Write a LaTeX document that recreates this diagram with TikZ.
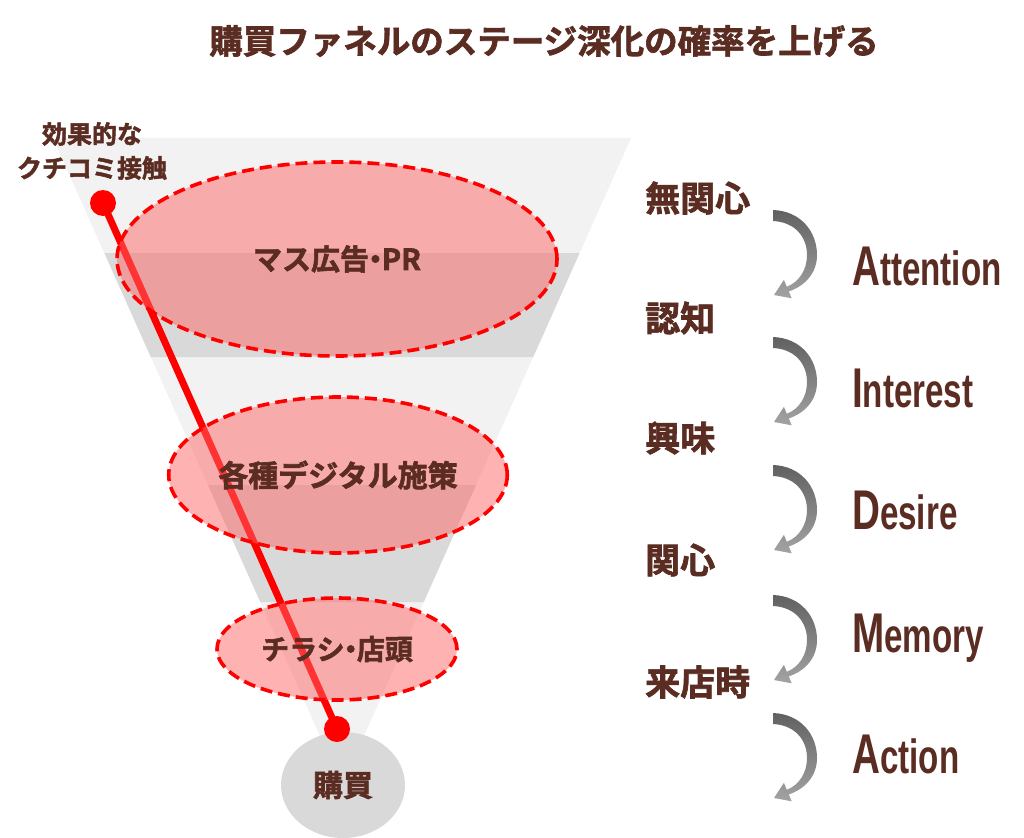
\documentclass[tikz,border=0pt]{standalone}
\usepackage{fontspec}
\newfontfamily\jpfont[BoldFont={Noto Sans CJK JP Bold},BoldFeatures={FakeBold=2}]{Noto Sans CJK JP}
\newfontfamily\enfont[FakeStretch=0.69,BoldFont={Liberation Sans Bold}]{Liberation Sans}
\usetikzlibrary{shapes.geometric}
\definecolor{txtbrown}{HTML}{5A2C22}
\definecolor{lightband}{HTML}{F2F2F2}
\definecolor{darkband}{HTML}{D9D9D9}
\definecolor{pinkfill}{HTML}{FF6666}
\tikzset{
  jptext/.style={text=txtbrown, font=\jpfont\bfseries, inner sep=0pt},
  plan/.style={ellipse, draw=red, line width=3.6pt, dash pattern=on 12pt off 6pt,
    fill=pinkfill, fill opacity=.5, text opacity=1, inner sep=0pt, jptext},
  dot/.style={circle, fill=red, minimum size=26pt, inner sep=0pt},
  stagebox/.style={jptext, anchor=west, font=\jpfont\bfseries\fontsize{35}{35}\selectfont},
  aidma/.style={text=txtbrown, anchor=base west, inner sep=0pt, font=\enfont\bfseries},
  turnarrow/.style={top color=black!62, bottom color=black!36}
}
\newcommand{\bigfirst}[2]{{\fontsize{56}{56}\selectfont #1}{\fontsize{48}{48}\selectfont #2}}
\newcommand{\nakaguro}{\kern-.28em・\kern-.28em}
\begin{document}
\begin{tikzpicture}[x=1pt, y=-1pt]
\useasboundingbox (0,0) rectangle (1024,837);
\fill[white] (0,0) rectangle (1024,837);
% title
\node[jptext, font=\jpfont\bfseries\fontsize{33.5}{33.5}\selectfont] (title) at (544,41)
  {購買ファネルのステージ深化の確率を上げる};
% funnel bands
\fill[lightband] (53,138) -- (631,138) -- (342,785) -- cycle;
\fill[darkband] (104.4,253) -- (579.6,253) -- (533.2,357) -- (150.8,357) -- cycle;
\fill[darkband] (208,485) -- (476,485) -- (423.7,602) -- (260.3,602) -- cycle;
\node[ellipse, fill=darkband, minimum width=124pt, minimum height=106pt, inner sep=0pt,
  jptext, font=\jpfont\bfseries\fontsize{30}{30}\selectfont] (kobai) at (343,785) {購買};
% word of mouth line
\node[dot] (wom) at (103,203) {};
\node[dot] (buy) at (337,729) {};
\draw[red, line width=7pt] (wom.center) -- (buy.center);
\node[jptext, align=center, font=\jpfont\bfseries\fontsize{25}{34}\selectfont] (womlabel) at (92,151)
  {効果的な\\クチコミ接触};
% measures
\node[plan, minimum width=440pt, minimum height=194pt, font=\jpfont\bfseries\fontsize{29}{29}\selectfont]
  (mass) at (337,259) {マス広告\nakaguro PR};
\node[plan, minimum width=326pt, minimum height=156pt, font=\jpfont\bfseries\fontsize{30}{30}\selectfont]
  (digital) at (338,475) {各種デジタル施策};
\node[plan, minimum width=240pt, minimum height=102pt, font=\jpfont\bfseries\fontsize{28}{28}\selectfont]
  (flyer) at (337,649) {チラシ\nakaguro 店頭};
% stages
\foreach \y/\name/\txt in {198/s1/無関心, 318/s2/認知, 438/s3/興味, 560/s4/関心, 682/s5/来店時}
  \node[stagebox] (\name) at (645,\y) {\txt};
\foreach \y in {210,337,465,595,713}
{
  \shade[turnarrow, shift={(773,\y)}] (0,0) .. controls (28,1) and (44,22) .. (44,45)
    .. controls (44,63) and (32,76) .. (15.8,81.4) -- (18.7,88.3) -- (1,85) -- (10.9,69.9)
    -- (13.8,76.8) .. controls (26,72) and (34,60) .. (34,45)
    .. controls (34,27) and (22,12) .. (0,11) -- cycle;
}
\node[aidma] (att) at (852,285) {\bigfirst{A}{ttention}};
\node[aidma] (int) at (852,407) {\bigfirst{I}{nterest}};
\node[aidma] (des) at (852,529) {\bigfirst{D}{esire}};
\node[aidma] (mem) at (852,652) {\bigfirst{M}{emory}};
\node[aidma] (act) at (852,773) {\bigfirst{A}{ction}};
\end{tikzpicture}
\end{document}
